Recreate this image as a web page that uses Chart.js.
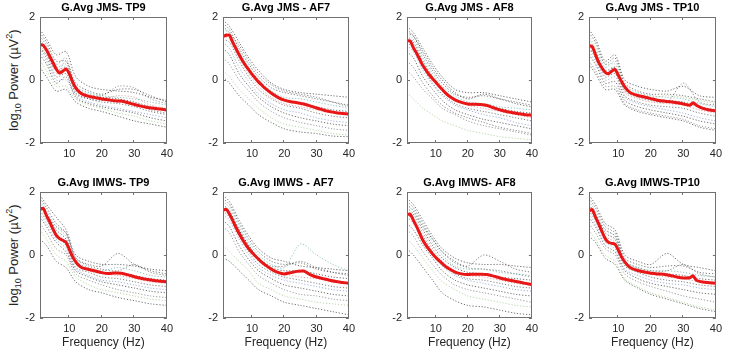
<!DOCTYPE html>
<html>
<head>
<meta charset="utf-8">
<script src="https://cdn.jsdelivr.net/npm/chart.js@4.4.1/dist/chart.umd.min.js"></script>
<style>
  body { margin: 0; background: #fff; width: 732px; height: 353px; overflow: hidden; position: relative;
         font-family: "Liberation Sans", Arial, sans-serif; }
  canvas { position: absolute; }
  .frame { position: absolute; box-sizing: border-box; border: 1px solid #707070; pointer-events: none; z-index: 2; }
  .ylab { position: absolute; left: 13px; white-space: nowrap; font-size: 13px; color: #262626;
          transform: translate(-50%, -50%) rotate(-90deg); line-height: 1; }
  .ylab sub, .ylab sup { font-size: 9px; line-height: 0; }
</style>
</head>
<body>
<div class="ylab" style="top:80px">log<sub>10</sub> Power (µV<sup>2</sup>)</div>
<div class="ylab" style="top:255px">log<sub>10</sub> Power (µV<sup>2</sup>)</div>
<script>
	// ******************************************************** DATA

	var X_TICKS = [10, 20, 30, 40];
	var Y_TICKS = [-2, 0, 2];

	// frequencies (Hz) of the grand average (red) and of the single subjects (dotted)
	var FREQ_MEAN = [1, 2, 3, 4, 5, 6, 7, 8, 9, 10, 11, 12, 13, 14, 16, 18, 20, 22, 24, 26, 28, 30, 32, 33, 34, 36, 38, 40];
	var FREQ_SUBJ = [1, 3, 6, 9, 12, 16, 20, 25, 30, 35, 40];

	var TITLES = ['G.Avg JMS- TP9', 'G.Avg JMS - AF7', 'G.Avg JMS - AF8', 'G.Avg JMS - TP10',
	              'G.Avg IMWS- TP9', 'G.Avg IMWS - AF7', 'G.Avg IMWS- AF8', 'G.Avg IMWS-TP10'];

	var MEAN_JMS_TP9   = [1.12, 1.1, 0.95, 0.75, 0.55, 0.35, 0.22, 0.28, 0.35, 0.2, -0.05, -0.25, -0.37, -0.45, -0.52, -0.56, -0.6, -0.63, -0.66, -0.67, -0.72, -0.78, -0.83, -0.85, -0.87, -0.9, -0.92, -0.95];
	var MEAN_JMS_AF7   = [1.38, 1.42, 1.42, 1.2, 1.0, 0.8, 0.62, 0.46, 0.32, 0.18, 0.06, -0.06, -0.16, -0.26, -0.42, -0.55, -0.64, -0.69, -0.72, -0.76, -0.82, -0.89, -0.95, -0.98, -1.0, -1.04, -1.06, -1.08];
	var MEAN_JMS_AF8   = [1.24, 1.24, 1.02, 0.85, 0.65, 0.45, 0.3, 0.16, 0.04, -0.07, -0.19, -0.3, -0.41, -0.5, -0.63, -0.71, -0.76, -0.77, -0.78, -0.81, -0.88, -0.95, -1.0, -1.02, -1.04, -1.07, -1.1, -1.12];
	var MEAN_JMS_TP10  = [1.08, 1.06, 0.8, 0.55, 0.38, 0.24, 0.2, 0.28, 0.33, 0.15, -0.05, -0.22, -0.34, -0.42, -0.49, -0.54, -0.59, -0.64, -0.67, -0.69, -0.72, -0.76, -0.8, -0.72, -0.8, -0.9, -0.95, -0.98];
	var MEAN_IMWS_TP9  = [1.45, 1.48, 1.25, 1.05, 0.82, 0.62, 0.52, 0.47, 0.4, 0.18, -0.05, -0.22, -0.34, -0.41, -0.46, -0.51, -0.56, -0.59, -0.57, -0.58, -0.63, -0.69, -0.74, -0.76, -0.78, -0.81, -0.83, -0.85];
	var MEAN_IMWS_AF7  = [1.42, 1.45, 1.3, 1.1, 0.88, 0.68, 0.5, 0.34, 0.2, 0.08, -0.03, -0.13, -0.23, -0.31, -0.45, -0.55, -0.6, -0.56, -0.52, -0.51, -0.62, -0.7, -0.75, -0.77, -0.8, -0.84, -0.87, -0.9];
	var MEAN_IMWS_AF8  = [1.28, 1.3, 1.1, 0.9, 0.68, 0.46, 0.3, 0.16, 0.03, -0.08, -0.18, -0.27, -0.36, -0.43, -0.54, -0.6, -0.62, -0.61, -0.61, -0.62, -0.67, -0.73, -0.78, -0.8, -0.82, -0.86, -0.9, -0.94];
	var MEAN_IMWS_TP10 = [1.4, 1.44, 1.2, 0.98, 0.74, 0.52, 0.4, 0.37, 0.34, 0.16, -0.06, -0.22, -0.34, -0.42, -0.49, -0.54, -0.58, -0.6, -0.61, -0.65, -0.7, -0.73, -0.72, -0.66, -0.8, -0.86, -0.88, -0.9];

	var SUBJ_JMS_TP9 = [
		[1.6, 1.3, 0.8, 0.9, 0.1, -0.2, -0.3, -0.35, -0.4, -0.55, -0.65],
		[1.5, 1.2, 0.6, 0.6, -0.1, -0.35, -0.45, -0.3, -0.3, -0.5, -0.7],
		[1.3, 1.0, 0.4, 0.5, -0.2, -0.4, -0.5, -0.55, -0.6, -0.7, -0.8],
		[1.2, 0.9, 0.3, 0.3, -0.3, -0.5, -0.55, -0.6, -0.7, -0.85, -0.95],
		[1.1, 0.8, 0.2, 0.6, -0.35, -0.55, -0.6, -0.5, -0.55, -0.8, -0.9],
		[1.0, 0.7, 0.1, 0.2, -0.45, -0.6, -0.7, -0.75, -0.85, -1.0, -1.1],
		[0.9, 0.6, 0.0, 0.0, -0.5, -0.7, -0.8, -0.9, -1.0, -1.1, -1.2],
		[0.8, 0.5, -0.1, 0.1, -0.55, -0.75, -0.85, -0.95, -1.05, -1.2, -1.3],
		[1.4, 1.1, 0.5, 0.7, -0.25, -0.45, -0.5, -0.2, -0.25, -0.6, -0.75],
		[0.6, 0.3, -0.2, -0.2, -0.6, -0.8, -0.9, -1.05, -1.15, -1.3, -1.4],
		[0.4, 0.1, -0.35, -0.3, -0.7, -0.9, -1.0, -1.15, -1.3, -1.4, -1.5],
		[1.0, 0.8, 0.3, 0.4, -0.4, -0.6, -0.65, -0.7, -0.75, -0.95, -1.05]
	];
	var SUBJ_JMS_AF7 = [
		[1.9, 1.7, 1.2, 0.7, 0.3, -0.1, -0.3, -0.4, -0.45, -0.5, -0.55],
		[1.8, 1.6, 1.0, 0.5, 0.1, -0.25, -0.4, -0.5, -0.6, -0.7, -0.8],
		[1.6, 1.5, 0.9, 0.4, 0.0, -0.35, -0.55, -0.6, -0.7, -0.8, -0.9],
		[1.5, 1.4, 0.8, 0.3, -0.1, -0.45, -0.65, -0.75, -0.85, -0.95, -1.0],
		[1.4, 1.3, 0.7, 0.2, -0.2, -0.55, -0.75, -0.85, -0.95, -1.05, -1.1],
		[1.3, 1.2, 0.6, 0.1, -0.3, -0.6, -0.8, -0.9, -1.05, -1.15, -1.2],
		[1.2, 1.0, 0.4, -0.05, -0.45, -0.75, -0.95, -1.05, -1.2, -1.3, -1.35],
		[1.0, 0.8, 0.2, -0.2, -0.55, -0.85, -1.05, -1.2, -1.3, -1.4, -1.45],
		[0.7, 0.5, 0.0, -0.35, -0.7, -1.0, -1.2, -1.35, -1.45, -1.55, -1.6],
		[0.3, 0.1, -0.3, -0.6, -0.9, -1.2, -1.4, -1.5, -1.6, -1.7, -1.75],
		[0.1, -0.1, -0.5, -0.8, -1.1, -1.35, -1.55, -1.65, -1.7, -1.78, -1.8],
		[1.7, 1.5, 1.1, 0.6, 0.2, -0.15, -0.35, -0.45, -0.55, -0.7, -0.85]
	];
	var SUBJ_JMS_AF8 = [
		[1.7, 1.5, 1.0, 0.5, 0.1, -0.3, -0.4, -0.4, -0.5, -0.6, -0.7],
		[1.6, 1.4, 0.8, 0.3, -0.1, -0.45, -0.55, -0.5, -0.6, -0.7, -0.8],
		[1.5, 1.3, 0.7, 0.2, -0.2, -0.5, -0.7, -0.75, -0.85, -0.9, -0.95],
		[1.4, 1.2, 0.6, 0.1, -0.3, -0.6, -0.75, -0.8, -0.9, -1.0, -1.05],
		[1.3, 1.1, 0.5, 0.0, -0.35, -0.65, -0.8, -0.9, -1.0, -1.1, -1.2],
		[1.2, 1.0, 0.4, -0.1, -0.45, -0.75, -0.9, -1.0, -1.1, -1.2, -1.3],
		[1.1, 0.9, 0.3, -0.15, -0.5, -0.8, -0.95, -1.1, -1.2, -1.35, -1.45],
		[0.9, 0.7, 0.1, -0.3, -0.65, -0.95, -1.1, -1.25, -1.35, -1.45, -1.55],
		[0.3, 0.1, -0.3, -0.6, -0.9, -1.1, -1.3, -1.45, -1.55, -1.65, -1.75],
		[-0.4, -0.6, -0.9, -1.1, -1.3, -1.45, -1.6, -1.7, -1.8, -1.85, -1.9],
		[1.5, 1.4, 0.9, 0.4, 0.0, -0.4, -0.6, -0.45, -0.6, -0.75, -0.85],
		[0.6, 0.4, -0.1, -0.5, -0.8, -1.05, -1.2, -1.35, -1.5, -1.6, -1.7]
	];
	var SUBJ_JMS_TP10 = [
		[1.6, 1.3, 0.6, 0.8, 0.0, -0.2, -0.3, -0.35, -0.2, -0.5, -0.55],
		[1.5, 1.2, 0.5, 0.7, -0.1, -0.35, -0.45, -0.45, -0.5, -0.6, -0.7],
		[1.3, 1.0, 0.4, 0.6, -0.2, -0.4, -0.5, -0.55, -0.6, -0.75, -0.85],
		[1.2, 0.9, 0.3, 0.4, -0.3, -0.5, -0.6, -0.65, -0.7, -0.85, -0.95],
		[1.1, 0.8, 0.2, 0.3, -0.4, -0.6, -0.7, -0.75, -0.8, -0.95, -1.05],
		[1.0, 0.7, 0.1, 0.2, -0.5, -0.7, -0.8, -0.85, -0.9, -1.05, -1.15],
		[0.9, 0.6, 0.0, 0.1, -0.55, -0.75, -0.85, -0.95, -1.05, -1.2, -1.3],
		[0.8, 0.5, -0.1, -0.05, -0.65, -0.85, -0.95, -1.05, -1.15, -1.3, -1.4],
		[0.6, 0.3, -0.2, -0.2, -0.75, -0.95, -1.05, -1.15, -1.25, -1.45, -1.55],
		[1.4, 1.1, 0.5, 0.5, -0.25, -0.45, -0.55, -0.5, -0.55, -0.65, -0.75],
		[0.5, 0.2, -0.3, -0.3, -0.8, -1.0, -1.1, -1.2, -1.3, -1.5, -1.6],
		[1.0, 0.8, 0.2, 0.4, -0.35, -0.55, -0.65, -0.7, -0.1, -0.7, -0.8]
	];
	var SUBJ_IMWS_TP9 = [
		[1.9, 1.6, 1.2, 0.8, 0.0, -0.2, -0.3, -0.3, -0.35, -0.45, -0.5],
		[1.8, 1.5, 1.0, 0.7, -0.1, -0.3, -0.35, 0.05, -0.3, -0.5, -0.6],
		[1.7, 1.4, 0.9, 0.6, -0.2, -0.4, -0.5, -0.4, -0.5, -0.65, -0.7],
		[1.6, 1.3, 0.8, 0.5, -0.25, -0.45, -0.55, -0.55, -0.65, -0.75, -0.8],
		[1.5, 1.2, 0.7, 0.4, -0.3, -0.5, -0.6, -0.65, -0.75, -0.85, -0.9],
		[1.4, 1.1, 0.6, 0.3, -0.4, -0.55, -0.7, -0.75, -0.85, -0.95, -1.0],
		[1.3, 1.0, 0.5, 0.2, -0.45, -0.65, -0.8, -0.85, -0.95, -1.05, -1.1],
		[1.2, 0.9, 0.4, 0.1, -0.5, -0.7, -0.85, -0.95, -1.05, -1.15, -1.2],
		[1.0, 0.7, 0.2, 0.0, -0.6, -0.8, -0.95, -1.1, -1.2, -1.3, -1.35],
		[0.8, 0.5, 0.0, -0.2, -0.7, -0.95, -1.1, -1.2, -1.3, -1.4, -1.45],
		[0.5, 0.3, -0.2, -0.4, -0.85, -1.1, -1.2, -1.35, -1.45, -1.55, -1.6],
		[1.6, 1.3, 0.9, 0.7, -0.1, -0.35, -0.45, -0.5, -0.3, -0.55, -0.65]
	];
	var SUBJ_IMWS_AF7 = [
		[1.9, 1.7, 1.1, 0.6, 0.2, -0.1, -0.2, -0.35, -0.4, -0.45, -0.5],
		[1.8, 1.6, 1.0, 0.5, 0.1, -0.2, -0.3, -0.25, -0.45, -0.55, -0.6],
		[1.7, 1.5, 0.9, 0.4, 0.0, -0.3, -0.4, 0.35, 0.0, -0.3, -0.5],
		[1.6, 1.4, 0.8, 0.3, -0.1, -0.4, -0.5, -0.5, -0.6, -0.7, -0.75],
		[1.5, 1.3, 0.7, 0.2, -0.2, -0.5, -0.6, -0.7, -0.75, -0.85, -0.9],
		[1.4, 1.2, 0.6, 0.1, -0.3, -0.55, -0.7, -0.8, -0.9, -1.0, -1.05],
		[1.3, 1.1, 0.5, 0.0, -0.4, -0.65, -0.8, -0.9, -1.0, -1.1, -1.15],
		[1.1, 0.9, 0.3, -0.15, -0.5, -0.75, -0.95, -1.05, -1.15, -1.25, -1.3],
		[0.9, 0.7, 0.1, -0.3, -0.65, -0.9, -1.1, -1.25, -1.3, -1.4, -1.45],
		[0.3, 0.1, -0.2, -0.5, -0.9, -1.1, -1.3, -1.4, -1.5, -1.55, -1.6],
		[-0.1, -0.2, -0.5, -0.8, -1.1, -1.3, -1.5, -1.6, -1.7, -1.8, -1.9],
		[1.5, 1.3, 0.8, 0.3, -0.1, -0.35, -0.35, -0.2, -0.4, -0.55, -0.65]
	];
	var SUBJ_IMWS_AF8 = [
		[1.8, 1.6, 1.1, 0.6, 0.2, -0.1, -0.25, -0.3, -0.3, -0.35, -0.4],
		[1.7, 1.5, 1.0, 0.5, 0.1, -0.25, -0.35, 0.0, -0.2, -0.45, -0.55],
		[1.6, 1.4, 0.9, 0.4, 0.0, -0.35, -0.45, -0.45, -0.55, -0.6, -0.65],
		[1.5, 1.3, 0.8, 0.3, -0.1, -0.4, -0.55, -0.6, -0.7, -0.75, -0.8],
		[1.4, 1.2, 0.7, 0.2, -0.2, -0.5, -0.65, -0.7, -0.8, -0.9, -0.95],
		[1.3, 1.1, 0.6, 0.1, -0.3, -0.6, -0.75, -0.8, -0.9, -1.0, -1.05],
		[1.2, 1.0, 0.5, 0.0, -0.35, -0.65, -0.8, -0.9, -1.0, -1.1, -1.15],
		[1.0, 0.8, 0.3, -0.1, -0.5, -0.8, -0.95, -1.05, -1.15, -1.25, -1.3],
		[0.8, 0.6, 0.1, -0.3, -0.65, -0.95, -1.1, -1.2, -1.3, -1.4, -1.5],
		[0.5, 0.3, -0.1, -0.5, -0.85, -1.1, -1.3, -1.4, -1.5, -1.6, -1.65],
		[0.2, 0.0, -0.4, -0.8, -1.2, -1.45, -1.6, -1.65, -1.75, -1.85, -1.9],
		[1.6, 1.4, 0.9, 0.5, 0.1, -0.2, -0.4, -0.45, -0.5, -0.6, -0.7]
	];
	var SUBJ_IMWS_TP10 = [
		[1.9, 1.6, 1.0, 0.8, 0.0, -0.2, -0.3, 0.05, -0.3, -0.4, -0.5],
		[1.8, 1.5, 0.9, 0.7, -0.1, -0.3, -0.4, -0.35, -0.35, -0.55, -0.6],
		[1.7, 1.4, 0.8, 0.6, -0.2, -0.4, -0.5, -0.5, -0.55, -0.65, -0.7],
		[1.6, 1.3, 0.7, 0.5, -0.25, -0.45, -0.55, -0.6, -0.65, -0.75, -0.8],
		[1.5, 1.2, 0.6, 0.4, -0.3, -0.5, -0.6, -0.7, -0.75, -0.85, -0.9],
		[1.4, 1.1, 0.5, 0.3, -0.35, -0.55, -0.7, -0.8, -0.85, -0.95, -1.0],
		[1.3, 1.0, 0.4, 0.2, -0.45, -0.65, -0.8, -0.9, -0.95, -1.05, -1.1],
		[1.2, 0.9, 0.3, 0.1, -0.5, -0.75, -0.9, -1.0, -1.1, -1.2, -1.25],
		[1.0, 0.7, 0.2, 0.0, -0.6, -0.85, -1.0, -1.15, -1.3, -1.4, -1.5],
		[0.8, 0.5, 0.0, -0.2, -0.75, -1.0, -1.2, -1.35, -1.5, -1.65, -1.75],
		[0.6, 0.4, -0.1, -0.3, -0.8, -1.05, -1.25, -1.4, -1.55, -1.7, -1.8],
		[1.5, 1.2, 0.8, 0.6, -0.2, -0.4, -0.5, -0.5, -0.3, -0.6, -0.7]
	];

	var MEANS = [MEAN_JMS_TP9, MEAN_JMS_AF7, MEAN_JMS_AF8, MEAN_JMS_TP10,
	             MEAN_IMWS_TP9, MEAN_IMWS_AF7, MEAN_IMWS_AF8, MEAN_IMWS_TP10];
	var SUBJS = [SUBJ_JMS_TP9, SUBJ_JMS_AF7, SUBJ_JMS_AF8, SUBJ_JMS_TP10,
	             SUBJ_IMWS_TP9, SUBJ_IMWS_AF7, SUBJ_IMWS_AF8, SUBJ_IMWS_TP10];

	// ******************************************************** LAYOUT

	var BOX_LEFT  = [40, 223, 407, 589];
	var BOX_RIGHT = [167, 349, 532, 716];
	var BOX_TOP   = [17, 192];
	var BOX_H     = 126;
	var Y_AXIS_W  = 40;
	var TITLE_H   = 17;
	var X_AXIS_H  = [22, 32];
	var PAD_RIGHT = 10;
	var BOX_COLOR = '#707070';

	var SUBJ_COLORS = ['rgba(30,30,30,0.8)', 'rgba(40,40,40,0.75)', 'rgba(60,150,140,0.7)', 'rgba(30,30,30,0.8)',
	                   'rgba(200,60,60,0.6)', 'rgba(50,50,50,0.75)', 'rgba(70,110,190,0.65)', 'rgba(30,30,30,0.8)',
	                   'rgba(90,90,90,0.75)', 'rgba(110,170,70,0.6)', 'rgba(30,30,30,0.8)', 'rgba(60,60,60,0.75)'];

	// small inward tick marks, like matlab
	var tickPlugin = {
		id: 'inwardTicks',
		afterDatasetsDraw: function(chart) {
			var ctx = chart.ctx, a = chart.chartArea;
			var sx = chart.scales.x, sy = chart.scales.y;
			ctx.save();
			ctx.setLineDash([]);
			ctx.strokeStyle = BOX_COLOR;
			ctx.lineWidth = 1;
			ctx.beginPath();
			X_TICKS.forEach(function(v) {
				var px = Math.round(sx.getPixelForValue(v)) - 0.5;
				ctx.moveTo(px, a.bottom); ctx.lineTo(px, a.bottom - 3);
				ctx.moveTo(px, a.top); ctx.lineTo(px, a.top + 3);
			});
			Y_TICKS.forEach(function(v) {
				var py = Math.round(sy.getPixelForValue(v)) + 0.5;
				ctx.moveTo(a.left, py); ctx.lineTo(a.left + 3, py);
				ctx.moveTo(a.right, py); ctx.lineTo(a.right - 3, py);
			});
			ctx.stroke();
			ctx.restore();
		}
	};

	function toPoints(xv, yv) {
		return yv.map(function(v, i) { return {x: xv[i], y: v}; });
	}

	// ******************************************************** CHARTS

	Chart.defaults.font.family = '"Liberation Sans", Arial, sans-serif';

	var noGrid = { display: false, drawTicks: false };

	for (var p = 0; p < 8; p++) {
		var row = Math.floor(p / 4), col = p % 4;
		var boxW = BOX_RIGHT[col] - BOX_LEFT[col];
		var cv = document.createElement('canvas');
		cv.width  = Y_AXIS_W + boxW + PAD_RIGHT;
		cv.height = TITLE_H + BOX_H + X_AXIS_H[row];
		cv.style.left = (BOX_LEFT[col] - Y_AXIS_W) + 'px';
		cv.style.top  = (BOX_TOP[row] - TITLE_H) + 'px';
		document.body.appendChild(cv);

		// frame of the axes
		var fr = document.createElement('div');
		fr.className = 'frame';
		fr.style.left = BOX_LEFT[col] + 'px';
		fr.style.top = BOX_TOP[row] + 'px';
		fr.style.width = boxW + 'px';
		fr.style.height = BOX_H + 'px';
		document.body.appendChild(fr);

		var datasets = [{
			data: toPoints(FREQ_MEAN, MEANS[p]),
			borderColor: 'rgb(232,22,22)',
			borderWidth: 3,
			pointRadius: 0,
			tension: 0.25,
			order: 0
		}];
		SUBJS[p].forEach(function(s, i) {
			datasets.push({
				data: toPoints(FREQ_SUBJ, s),
				borderColor: SUBJ_COLORS[i],
				borderWidth: 0.8,
				borderDash: [1.2, 1.8],
				pointRadius: 0,
				tension: 0.3,
				order: 1
			});
		});

		var xH = X_AXIS_H[row];
		new Chart(cv.getContext('2d'), {
			type: 'line',
			data: { datasets: datasets },
			plugins: [tickPlugin],
			options: {
				responsive: false,
				animation: false,
				events: [],
				layout: { padding: { left: 0, right: PAD_RIGHT, top: 0, bottom: 0 } },
				plugins: {
					legend: { display: false },
					tooltip: { enabled: false },
					title: {
						display: true,
						text: TITLES[p],
						fullSize: false,
						color: '#000',
						font: { size: 11, weight: 'bold', lineHeight: 1 },
						padding: { top: 2, bottom: 4 }
					}
				},
				scales: {
					x: {
						type: 'linear', min: 1, max: 40,
						afterBuildTicks: function(s) { s.ticks = X_TICKS.map(function(v) { return {value: v}; }); },
						afterFit: (function(h) { return function(s) { s.height = h; }; })(xH),
						grid: noGrid,
						border: { display: false },
						ticks: { color: '#262626', font: { size: 11 }, padding: 4, maxRotation: 0, autoSkip: false },
						title: { display: row === 1, text: 'Frequency (Hz)', color: '#262626', font: { size: 12 }, padding: { top: 0, bottom: 0 } }
					},
					y: {
						min: -2, max: 2,
						afterBuildTicks: function(s) { s.ticks = Y_TICKS.map(function(v) { return {value: v}; }); },
						afterFit: function(s) { s.width = Y_AXIS_W; },
						grid: noGrid,
						border: { display: false },
						ticks: { color: '#262626', font: { size: 11 }, padding: 5 }
					}
				}
			}
		});
	}
</script>
</body>
</html>
